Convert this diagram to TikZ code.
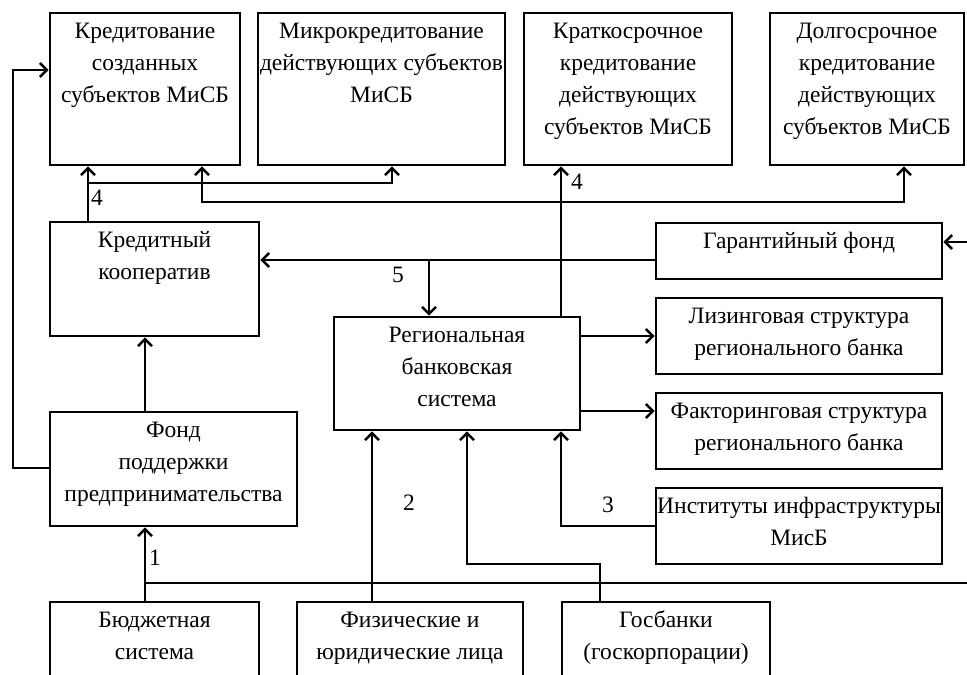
\documentclass[tikz,border=0pt]{standalone}
\usepackage{fontspec}
\setmainfont{Liberation Serif}
\usetikzlibrary{arrows.meta}

% text of a box, set from the top edge
\newcommand{\celltext}[3]{\parbox[c][#2][t]{#1}{\centering\rule{0pt}{25.5pt}#3}}

\begin{document}
\begin{tikzpicture}[x=1pt, y=-1pt,
    block/.style={draw=black, line width=2.6pt, inner sep=0pt,
        font=\fontsize{23.5}{32}\selectfont},
    wire/.style={line width=2.6pt},
    link/.style={wire, -{Straight Barb[length=7pt,width=14pt]}},
    num/.style={inner sep=0pt, font=\fontsize{23.5}{26}\selectfont}
]
    \useasboundingbox (0,0) rectangle (967,675);

    % top row
    \node[block] (kreds) at (145,89) {\celltext{190pt}{152pt}{Кредитование\\ созданных\\ субъектов МиСБ}};
    \node[block] (mikro) at (381.5,89) {\celltext{247pt}{152pt}{Микрокредитование\\ действующих субъектов\\ МиСБ}};
    \node[block] (kratko) at (628,89) {\celltext{208pt}{152pt}{Краткосрочное\\ кредитование\\ действующих\\ субъектов МиСБ}};
    \node[block] (dolgo) at (867,89) {\celltext{194pt}{152pt}{Долгосрочное\\ кредитование\\ действующих\\ субъектов МиСБ}};

    % middle
    \node[block] (koop) at (154.5,279) {\celltext{209pt}{114pt}{Кредитный\\ кооператив}};
    \node[block] (garant) at (799,251) {\celltext{286pt}{56pt}{Гарантийный фонд}};
    \node[block] (regbank) at (457,373.5) {\celltext{246pt}{113pt}{Региональная\\ банковская\\ система}};
    \node[block] (lizing) at (799,336) {\celltext{286pt}{76pt}{Лизинговая структура\\ регионального банка}};
    \node[block] (faktor) at (799,431) {\celltext{286pt}{76pt}{Факторинговая структура\\ регионального банка}};
    \node[block] (instit) at (799,526) {\celltext{286pt}{76pt}{Институты инфраструктуры\\ МисБ}};
    \node[block] (fond) at (173.5,469) {\celltext{247pt}{114pt}{Фонд\\ поддержки\\ предпринимательства}};

    % bottom row
    \node[block] (budget) at (154.5,651) {\celltext{209pt}{98pt}{Бюджетная\\ система}};
    \node[block] (fizlica) at (410,651) {\celltext{226pt}{98pt}{Физические и\\ юридические лица}};
    \node[block] (gosbank) at (666,651) {\celltext{208pt}{98pt}{Госбанки\\ (госкорпорации)}};

    % bends and free ends
    \coordinate (t4) at (88,183);
    \coordinate (m4) at (392,183);
    \coordinate (d4a) at (202,202);
    \coordinate (d4b) at (904,202);
    \coordinate (k4) at (561,0);
    \coordinate (g5) at (429,260);
    \coordinate (gin) at (967,242);
    \coordinate (fin) at (0,411);
    \coordinate (lf) at (13,468);
    \coordinate (lk) at (13,70);
    \coordinate (c1) at (145,583);
    \coordinate (cend) at (967,583);
    \coordinate (f2) at (372,0);
    \coordinate (gb1) at (600,564);
    \coordinate (gb2) at (467,564);

    % links
    \draw[link] (koop.north -| t4) -- (kreds.south -| t4);
    \draw[link] (t4) -- (m4) -- (mikro.south -| m4);
    \draw[{Straight Barb[length=7pt,width=14pt]}-{Straight Barb[length=7pt,width=14pt]}, wire]
        (kreds.south -| d4a) -- (d4a) -- (d4b) -- (dolgo.south -| d4b);
    \draw[link] (regbank.north -| k4) -- (kratko.south -| k4);
    \draw[link] (garant.west |- g5) -- (koop.east |- g5);
    \draw[link] (g5) -- (regbank.north -| g5);
    \draw[link] (gin) -- (garant.east |- gin);
    \draw[link] (regbank.east |- lizing.west) -- (lizing.west);
    \draw[link] (fin -| regbank.east) -- (fin -| faktor.west);
    \draw[link] (instit.west) -| (regbank.south -| k4);
    \draw[link] (fond.north -| c1) -- (koop.south -| c1);
    \draw[link] (fond.west |- lf) -- (lf) -- (lk) -- (kreds.west |- lk);
    \draw[link] (budget.north -| c1) -- (fond.south -| c1);
    \draw[wire] (c1) -- (cend);
    \draw[link] (fizlica.north -| f2) -- (regbank.south -| f2);
    \draw[link] (gosbank.north -| gb1) -- (gb1) -- (gb2) -- (regbank.south -| gb2);

    % numbers
    \node[num] (n4a) at (97,198) {4};
    \node[num] (n4b) at (577,182) {4};
    \node[num] (n5) at (398,275) {5};
    \node[num] (n1) at (155,558) {1};
    \node[num] (n2) at (409,503) {2};
    \node[num] (n3) at (608,505) {3};
\end{tikzpicture}
\end{document}
